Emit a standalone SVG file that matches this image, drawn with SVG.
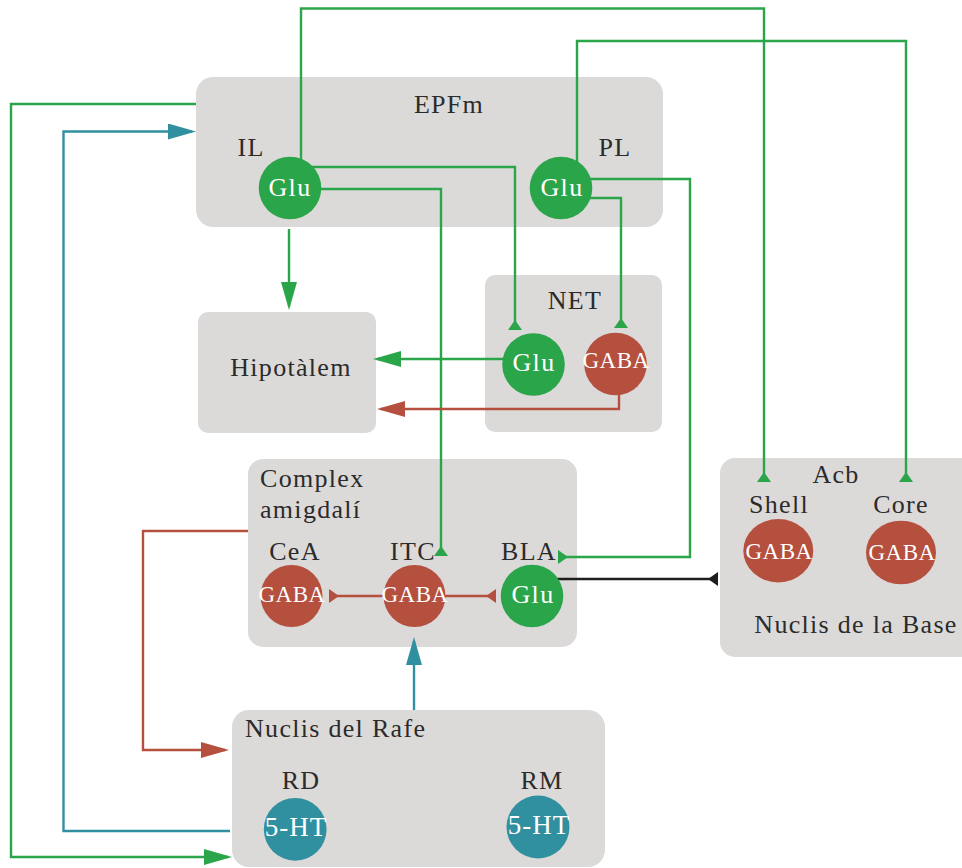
<svg xmlns="http://www.w3.org/2000/svg" width="962" height="868" viewBox="0 0 962 868">
<style>
.box{fill:#dcdad9}
.lbl{font-family:"Liberation Serif","Times New Roman",serif;font-size:26px;fill:#2b2b2b;letter-spacing:1.3px}
.mid{text-anchor:middle}
.nt{font-family:"Liberation Serif","Times New Roman",serif;fill:#ffffff;text-anchor:middle}
.glu{fill:#2ba549}
.gaba{fill:#b5503f}
.ht{fill:#31909f}
.g{stroke:#2ba549}
.r{stroke:#b5503f}
.t{stroke:#31909f}
.k{stroke:#1e1e1e}
#connectors path{fill:none;stroke-width:2.4}
</style>
<defs>
<marker id="aG" markerUnits="userSpaceOnUse" viewBox="0 0 28 16" markerWidth="28" markerHeight="16" refX="24" refY="8" orient="auto"><path d="M0,0 L28,8 L0,16 z" fill="#2ba549"/></marker>
<marker id="aR" markerUnits="userSpaceOnUse" viewBox="0 0 28 16" markerWidth="28" markerHeight="16" refX="24" refY="8" orient="auto"><path d="M0,0 L28,8 L0,16 z" fill="#b5503f"/></marker>
<marker id="aT" markerUnits="userSpaceOnUse" viewBox="0 0 28 16" markerWidth="28" markerHeight="16" refX="24" refY="8" orient="auto"><path d="M0,0 L28,8 L0,16 z" fill="#31909f"/></marker>
<marker id="tG" markerUnits="userSpaceOnUse" viewBox="0 0 10 14" markerWidth="10" markerHeight="14" refX="10" refY="7" orient="auto"><path d="M10,0 L10,14 L0,7 z" fill="#2ba549"/></marker>
<marker id="tR" markerUnits="userSpaceOnUse" viewBox="0 0 10 14" markerWidth="10" markerHeight="14" refX="10" refY="7" orient="auto"><path d="M10,0 L10,14 L0,7 z" fill="#b5503f"/></marker>
<marker id="tK" markerUnits="userSpaceOnUse" viewBox="0 0 10 14" markerWidth="10" markerHeight="14" refX="10" refY="7" orient="auto"><path d="M10,0 L10,14 L0,7 z" fill="#1e1e1e"/></marker>
</defs>
<rect width="962" height="868" fill="#ffffff"/>

<g id="EPFm">
<rect class="box" x="196" y="77" width="467" height="150" rx="17"/>
<text class="lbl mid" x="449" y="113">EPFm</text>
<text class="lbl mid" x="251" y="156">IL</text>
<text class="lbl mid" x="615" y="156">PL</text>
</g>
<g id="Hipotalem">
<rect class="box" x="198" y="312" width="178" height="121" rx="10"/>
<text class="lbl mid" x="291" y="376">Hipotàlem</text>
</g>
<g id="NET">
<rect class="box" x="485" y="275" width="177" height="157" rx="10"/>
<text class="lbl mid" x="575" y="309">NET</text>
</g>
<g id="ComplexAmigdali">
<rect class="box" x="248" y="459" width="329" height="188" rx="15"/>
<text class="lbl" x="260" y="487">Complex</text>
<text class="lbl" x="260" y="518">amigdalí</text>
<text class="lbl mid" x="295" y="560">CeA</text>
<text class="lbl mid" x="413" y="560">ITC</text>
<text class="lbl mid" x="529" y="560">BLA</text>
</g>
<g id="NuclisBase">
<rect class="box" x="720" y="458" width="260" height="199" rx="15"/>
<text class="lbl mid" x="836" y="483">Acb</text>
<text class="lbl mid" x="779" y="513">Shell</text>
<text class="lbl mid" x="901" y="513">Core</text>
<text class="lbl mid" x="856" y="633">Nuclis de la Base</text>
</g>
<g id="NuclisRafe">
<rect class="box" x="232" y="710" width="373" height="157" rx="17"/>
<text class="lbl" x="245" y="737">Nuclis del Rafe</text>
<text class="lbl mid" x="301" y="789">RD</text>
<text class="lbl mid" x="542" y="789">RM</text>
</g>

<g id="connectors">
<path class="g" d="M301,165 V8.5 H764 V482" marker-end="url(#tG)"/>
<path class="g" d="M577,165 V41 H906 V482" marker-end="url(#tG)"/>
<path class="g" d="M300,167 H515 V330" marker-end="url(#tG)"/>
<path class="g" d="M305,189 H441 V556" marker-end="url(#tG)"/>
<path class="g" d="M580,179 H690 V557 H558" marker-end="url(#tG)"/>
<path class="g" d="M580,198 H621 V328" marker-end="url(#tG)"/>
<path class="g" d="M289,229 V306" marker-end="url(#aG)"/>
<path class="g" d="M520,359 H377" marker-end="url(#aG)"/>
<path class="r" d="M619,390 V409 H381" marker-end="url(#aR)"/>
<path class="g" d="M196,104 H11 V857 H228" marker-end="url(#aG)"/>
<path class="t" d="M230,831 H63.5 V131.5 H192" marker-end="url(#aT)"/>
<path class="t" d="M414,710 V641" marker-end="url(#aT)"/>
<path class="r" d="M248,531 H143 V750 H225" marker-end="url(#aR)"/>
<path class="r" d="M400,596 H329" marker-end="url(#tR)"/>
<path class="r" d="M430,596 H496" marker-end="url(#tR)"/>
<path class="k" d="M550,579 H718" marker-end="url(#tK)"/>
</g>

<g id="IL_Glu"><circle class="glu" cx="290" cy="188" r="31.3"/><text class="nt" x="290" y="196" font-size="26" letter-spacing="1.3">Glu</text></g>
<g id="PL_Glu"><circle class="glu" cx="561" cy="188" r="31.3"/><text class="nt" x="562" y="196" font-size="26" letter-spacing="1.3">Glu</text></g>
<g id="NET_Glu"><circle class="glu" cx="533.5" cy="364.5" r="31.3"/><text class="nt" x="534" y="371" font-size="26" letter-spacing="1.3">Glu</text></g>
<g id="NET_GABA"><circle class="gaba" cx="615.5" cy="364" r="31.3"/><text class="nt" x="616" y="368" font-size="23" letter-spacing="0.5">GABA</text></g>
<g id="CeA_GABA"><circle class="gaba" cx="291.5" cy="596" r="31"/><text class="nt" x="292" y="602" font-size="23" letter-spacing="0.5">GABA</text></g>
<g id="ITC_GABA"><circle class="gaba" cx="414.5" cy="596" r="31"/><text class="nt" x="415" y="602" font-size="23" letter-spacing="0.5">GABA</text></g>
<g id="BLA_Glu"><circle class="glu" cx="532" cy="596" r="31.3"/><text class="nt" x="533" y="603" font-size="26" letter-spacing="1.3">Glu</text></g>
<g id="Shell_GABA"><ellipse class="gaba" cx="778.3" cy="550.7" rx="35" ry="31.7"/><text class="nt" x="779" y="559" font-size="23" letter-spacing="0.5">GABA</text></g>
<g id="Core_GABA"><ellipse class="gaba" cx="901" cy="552.5" rx="35" ry="31.8"/><text class="nt" x="902" y="560" font-size="23" letter-spacing="0.5">GABA</text></g>
<g id="RD_5HT"><circle class="ht" cx="295.2" cy="829.3" r="31.4"/><text class="nt" x="296" y="836" font-size="27" letter-spacing="1">5-HT</text></g>
<g id="RM_5HT"><circle class="ht" cx="538" cy="827" r="31.5"/><text class="nt" x="539" y="834" font-size="27" letter-spacing="1">5-HT</text></g>
</svg>
